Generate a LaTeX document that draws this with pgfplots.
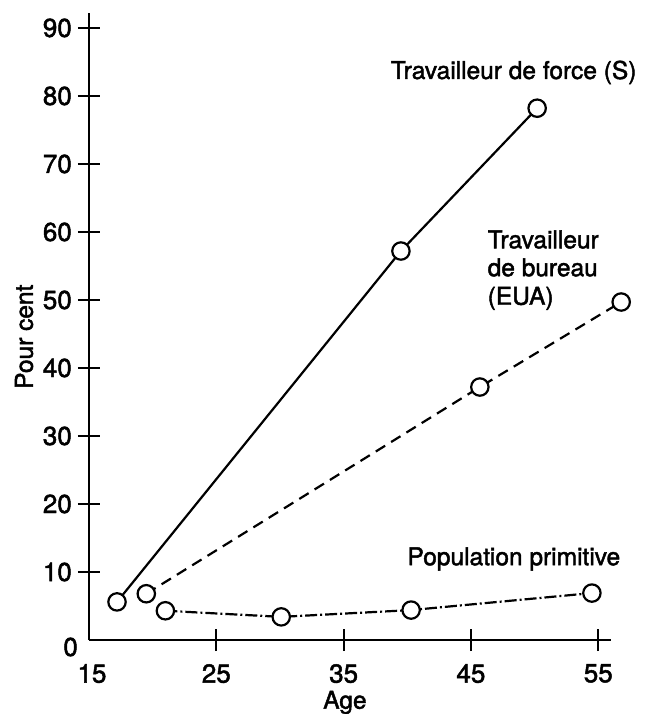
\documentclass[border=0pt]{standalone}
\usepackage{fontspec}
\setmainfont{TeX Gyre Heros}[FakeBold=1.8]
\usepackage{pgfplots}
\pgfplotsset{compat=1.18}
\begin{document}
\begin{tikzpicture}[x=1pt,y=1pt,
  ylab/.style={anchor=east, xshift=-17pt},
  xlab/.style={anchor=north, yshift=-24pt}]
\useasboundingbox (-89,-74) rectangle (564,640);
\begin{axis}[
  at={(0,0)}, anchor=south west,
  scale only axis, width=522pt, height=627pt,
  xmin=15, xmax=56, ymin=0, ymax=92.2,
  axis x line=bottom, axis y line=left,
  axis line style={-, line width=2.2pt},
  xtick={25,35,45,55}, ytick={10,20,...,90},
  xticklabels={}, yticklabels={},
  tick align=center, major tick length=22pt,
  tick style={line width=2.2pt, black},
  clip=false,
]
\addplot[black, line width=2.2pt, mark=*, mark size=8.7pt,
  mark options={solid, fill=white, draw=black, line width=2.2pt}]
  coordinates {(17.2,5.6) (39.5,57.2) (50.2,78.2)};
\addplot[black, line width=2.2pt, dash pattern=on 11pt off 7pt, mark=*, mark size=8.7pt,
  mark options={solid, fill=white, draw=black, line width=2.2pt}]
  coordinates {(19.5,6.8) (45.7,37.2) (56.8,49.7)};
\addplot[black, line width=2.2pt, dash pattern=on 12pt off 3pt on 2pt off 3pt, mark=*, mark size=8.7pt,
  mark options={solid, fill=white, draw=black, line width=2.2pt}]
  coordinates {(21.0,4.3) (30.1,3.4) (40.3,4.4) (54.5,6.9)};
\begin{scope}[every node/.style={font=\fontsize{26}{30}\selectfont, inner sep=0pt}]
\node[ylab] at (axis cs:15,10) {10};
\node[ylab] at (axis cs:15,20) {20};
\node[ylab] at (axis cs:15,30) {30};
\node[ylab] at (axis cs:15,40) {40};
\node[ylab] at (axis cs:15,50) {50};
\node[ylab] at (axis cs:15,60) {60};
\node[ylab] at (axis cs:15,70) {70};
\node[ylab] at (axis cs:15,80) {80};
\node[ylab] at (axis cs:15,90) {90};
\node[anchor=east, xshift=-11pt, yshift=-7pt] at (axis cs:15,0) {0};
\node[xlab, xshift=3pt] at (axis cs:15,0) {15};
\node[xlab] at (axis cs:25,0) {25};
\node[xlab] at (axis cs:35,0) {35};
\node[xlab] at (axis cs:45,0) {45};
\node[xlab] at (axis cs:55,0) {55};
\end{scope}
\begin{scope}[every node/.style={font=\fontsize{24.5}{28.5}\selectfont, inner sep=0pt}]
\node[anchor=base west] at (axis cs:38.7,82.5) {Travailleur de force (S)};
\node[anchor=base west] at (axis cs:46.3,57.6) {Travailleur};
\node[anchor=base west] at (axis cs:46.3,53.5) {de bureau};
\node[anchor=base west] at (axis cs:46.3,49.3) {(EUA)};
\node[anchor=base west] at (axis cs:40.0,11.0) {Population primitive};
\node[rotate=90] at (axis cs:9.9,44.6) {Pour cent};
\node[anchor=base] at (axis cs:35.1,-10.1) {Age};
\end{scope}
\end{axis}
\end{tikzpicture}
\end{document}
